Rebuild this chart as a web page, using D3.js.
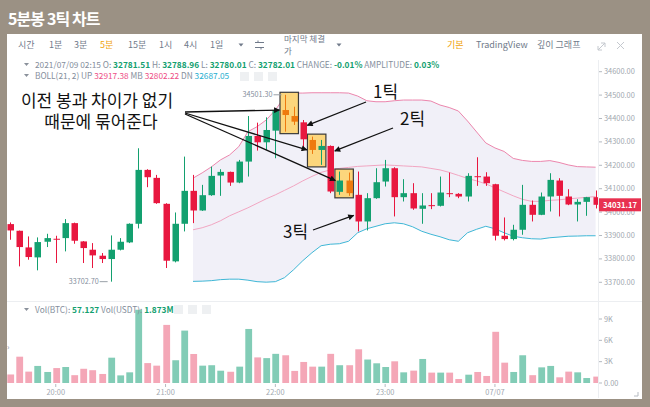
<!DOCTYPE html>
<html><head><meta charset="utf-8">
<script src="https://cdn.jsdelivr.net/npm/d3@7"></script>
<style>
html,body{margin:0;padding:0;background:#9b9184;}
svg{display:block;}
text{font-family:"Noto Sans CJK KR","Noto Sans",sans-serif;}
</style></head><body>
<svg id="c" width="650" height="407"></svg>
<script>
const times = ["19:35","19:40","19:45","19:50","19:55","20:00","20:05","20:10","20:15","20:20","20:25","20:30","20:35","20:40","20:45","20:50","20:55",
"21:00","21:05","21:10","21:15","21:20","21:25","21:30","21:35","21:40","21:45","21:50","21:55",
"22:00","22:05","22:10","22:15","22:20","22:25","22:30","22:35","22:40","22:45","22:50","22:55",
"23:00","23:05","23:10","23:15","23:20","23:25","23:30","23:35","23:40","23:45","23:50","23:55",
"00:00","00:05","00:10","00:15","00:20","00:25","00:30","00:35","00:40","00:45","00:50","00:55"];
const opens = [33948.7,33920.2,33849.1,33806.5,33873.3,33886.1,33888.9,33952.9,33874.7,33839.2,33813.6,33799.4,33839.2,33870.5,33950.1,34180.4,34146.3,34035.4,33789.5,33950.1,34090.8,34006.9,34072.3,34156.2,34171.8,34126.3,34215.9,34325.4,34298.3,34348.1,34436.2,34410.6,34383.6,34308.3,34265.6,34282.7,34086.6,34134.9,34073.8,33960.0,34059.5,34130.6,34187.5,34063.8,34080.9,34014.1,34029.7,34026.9,34080.9,34078.0,34066.6,34153.4,34151.9,34119.2,33898.9,33884.7,33924.5,34031.1,33988.4,34066.6,34134.9,34066.6,34032.5,34043.8,34063.8];
const highs = [33955.8,33921.0,33896.0,33891.8,33907.4,33898.9,33970.0,33955.0,33876.0,33867.6,33825.0,33900.3,33888.9,33952.0,34272.8,34183.2,34159.0,34038.0,33998.4,34237.2,34159.0,34116.4,34194.6,34183.2,34173.0,34223.0,34410.6,34382.2,34404.9,34443.3,34501.3,34450.4,34393.6,34322.5,34308.3,34285.0,34173.3,34169.0,34173.3,34080.9,34187.5,34223.0,34191.7,34140.6,34123.5,34080.9,34080.9,34151.9,34169.0,34081.0,34166.1,34234.4,34170.4,34121.0,33977.1,33945.8,34116.4,34049.6,34083.7,34166.1,34144.8,34097.9,34055.2,34065.0,34092.3];
const lows = [33881.9,33768.1,33796.6,33751.1,33850.6,33782.4,33832.1,33864.8,33782.4,33761.0,33782.4,33702.7,33836.3,33867.6,33930.2,34106.5,34035.4,33761.0,33785.2,33917.4,33952.9,34005.0,34069.5,34069.5,34112.1,34123.5,34151.9,34262.8,34265.6,34230.1,34343.8,34372.3,34272.8,34248.6,34201.7,34080.9,34073.8,34069.5,33917.4,33921.6,34056.7,34109.3,33981.4,34045.3,34009.8,33950.1,34012.6,34024.0,34063.8,34059.5,34045.3,34112.1,34112.1,33879.0,33879.0,33879.0,33903.2,33960.0,33987.0,34002.6,33981.4,34029.7,33960.0,33984.2,34015.5];
const closes = [33921.6,33850.6,33807.9,33871.9,33888.9,33883.3,33952.9,33877.6,33846.3,33815.0,33799.4,33839.2,33873.3,33950.1,34180.4,34149.1,34038.2,33792.3,33950.1,34090.8,34006.9,34072.3,34154.8,34171.8,34126.3,34215.9,34325.4,34298.3,34350.9,34436.2,34414.9,34386.5,34311.1,34265.6,34282.7,34088.0,34134.9,34080.9,33960.0,34059.5,34127.8,34187.5,34063.8,34080.9,34015.5,34028.3,34026.9,34083.7,34078.0,34066.6,34154.8,34150.5,34123.5,33898.9,33884.7,33924.5,34031.1,33988.4,34066.6,34137.7,34069.5,34032.5,34043.8,34063.8,34031.17];
const volumes = [1200,3700,1600,2400,1550,2100,2250,1100,2000,1800,1270,3560,1070,1500,10300,2800,2440,8170,3200,7370,4080,2440,2500,1730,1580,2300,7600,3600,3500,4100,3900,1700,2960,2300,2300,4100,2500,2500,4740,3300,2770,2250,3050,1500,1740,3380,1460,1460,1460,560,1170,1550,990,7200,2860,1550,3900,1100,2200,2400,800,1600,1500,700,900];
const bollStart = 20;
const bollUp = [34145.0,34167.6,34193.1,34223.0,34244.3,34279.7,34343.7,34365.0,34393.6,34436.2,34491.7,34508.7,34508.7,34510.0,34510.0,34510.0,34510.0,34508.7,34495.9,34475.9,34471.6,34471.6,34475.9,34478.9,34478.9,34478.9,34474.6,34457.5,34446.9,34432.0,34389.3,34342.4,34295.5,34274.2,34259.2,34229.4,34220.9,34216.6,34216.6,34220.0,34212.3,34201.7,34194.4,34193.1,34191.9];
const bollMid = [33924.5,33933.0,33945.8,33962.9,33984.2,34001.2,34018.3,34037.5,34056.7,34073.7,34092.9,34112.1,34133.4,34152.6,34169.7,34180.3,34186.7,34191.0,34195.3,34197.4,34199.5,34201.7,34199.5,34197.4,34195.3,34193.1,34186.7,34180.3,34169.7,34156.9,34144.1,34133.4,34120.7,34103.6,34086.5,34069.5,34054.6,34046.0,34046.0,34050.3,34052.4,34056.7,34059.7,34063.1,34066.5];
const bollDn = [33704.0,33704.9,33707.0,33711.3,33713.4,33713.4,33709.1,33702.7,33700.6,33702.7,33719.8,33753.9,33792.3,33826.4,33856.3,33862.7,33864.8,33875.4,33911.7,33928.8,33939.4,33950.1,33954.3,33950.1,33937.3,33918.1,33905.3,33894.6,33881.8,33875.4,33911.7,33926.6,33939.4,33928.8,33911.7,33896.8,33890.4,33886.1,33884.8,33890.4,33893.4,33896.8,33897.6,33898.9,33898.9];
const highlighted = [30,31,33,37];
const boxes = [[30,31],[33,34],[36,37]];
const priceTicks = [33700,33800,33900,34000,34100,34200,34300,34400,34500,34600];
const volTicks = [0,3000,6000,9000];
const volTickLabels = ["0.00","3K","6K","9K"];
const timeTicks = ["20:00","21:00","22:00","23:00","00:00"];
const timeTickLabels = ["20:00","21:00","22:00","23:00","07/07"];

const GREEN="#13a06f", RED="#e8173f", ORANGE="#ee7a0e";
const VGREEN="#82ccb6", VRED="#f4a7b7";
const svg = d3.select("#c");

// panel
svg.append("rect").attr("x",7).attr("y",34).attr("width",635).attr("height",365).attr("fill","#ffffff");
svg.append("text").attr("x",8).attr("y",25).attr("fill","#fff").attr("font-size",16).attr("font-weight",700)
  .attr("letter-spacing","-0.9").text("5분봉 3틱 차트");

// toolbar
const tb = [["시간",18,"#707a8a"],["1분",49,"#707a8a"],["3분",74,"#707a8a"],["5분",100,"#f0a30a"],["15분",128,"#707a8a"],["1시",159,"#707a8a"],["4시",184,"#707a8a"],["1일",210,"#707a8a"],["기본",447,"#f0a30a"],["TradingView",476,"#707a8a"],["깊이 그래프",537,"#707a8a"]];
tb.forEach(t=>svg.append("text").attr("x",t[1]).attr("y",48).attr("font-size",9).attr("fill",t[2]).text(t[0]));
svg.append("text").attr("x",284).attr("y",42).attr("font-size",8.5).attr("fill","#707a8a").text("마지막 체결");
svg.append("text").attr("x",284).attr("y",53.5).attr("font-size",8.5).attr("fill","#707a8a").text("가");
[[241,45],[339,45]].forEach(p=>svg.append("path").attr("d",`M${p[0]-2.5},${p[1]-1.5}L${p[0]+2.5},${p[1]-1.5}L${p[0]},${p[1]+1.5}Z`).attr("fill","#707a8a"));
svg.append("path").attr("d","M255,42.5h9M258,42.5v-2M255,47.5h9M261,47.5v2").attr("stroke","#707a8a").attr("fill","none");
svg.append("path").attr("d","M598,50l7,-7M601,43h4v4M598,46v4h4").attr("stroke","#c4c8ce").attr("fill","none");
svg.append("path").attr("d","M617,42l7,7M624,42l-7,7").attr("stroke","#c4c8ce").attr("fill","none");

// info lines
function infoLine(y, parts){
  const t = svg.append("text").attr("x",35).attr("y",y).attr("font-size",8.3).attr("font-family","'Noto Sans',sans-serif");
  parts.forEach(p=>t.append("tspan").attr("fill",p[1]).attr("font-weight",p[2]||400).text(p[0]));
  svg.append("path").attr("d",`M${24},${y-5}L${29},${y-5}L${26.5},${y-2}Z`).attr("fill","#8a919b");
}
const G="#848e9c";
infoLine(68,[["2021/07/09 02:15 O: ",G],["32781.51",GREEN,600],[" H: ",G],["32788.96",GREEN,600],[" L: ",G],["32780.01",GREEN,600],[" C: ",G],["32782.01",GREEN,600],[" CHANGE: ",G],["-0.01%",GREEN,600],[" AMPLITUDE: ",G],["0.03%",GREEN,600]]);
infoLine(79,[["BOLL(21, 2) UP ",G],["32917.38","#ee4f87"],[" MB ",G],["32802.22","#ee4f87"],[" DN ",G],["32687.05","#1eaed0"]]);
[240,254,268].forEach(x=>svg.append("rect").attr("x",x).attr("y",72).attr("width",9).attr("height",9).attr("fill","#eef0f2"));

// scales
const x = d3.scalePoint().domain(times).range([10,595.6]);
const y = d3.scaleLinear().domain([33700,34600]).range([282.3,71.7]);
const vy = d3.scaleLinear().domain([0,9000]).range([383,319]);
const xi = i => x(times[i]);

// separators
svg.append("line").attr("x1",598.5).attr("x2",598.5).attr("y1",60).attr("y2",398).attr("stroke","#eceef1");
svg.append("line").attr("x1",7).attr("x2",642).attr("y1",301.5).attr("y2",301.5).attr("stroke","#eceef1");

const defs = svg.append("defs");
defs.append("clipPath").attr("id","mc").append("rect").attr("x",7).attr("y",60).attr("width",591).attr("height",241);
defs.append("clipPath").attr("id","vc").append("rect").attr("x",7).attr("y",302).attr("width",591).attr("height",84);
defs.append("marker").attr("id","ah").attr("viewBox","0 0 10 10").attr("refX",9).attr("refY",5)
  .attr("markerWidth",7).attr("markerHeight",6).attr("orient","auto").attr("markerUnits","userSpaceOnUse")
  .append("path").attr("d","M0,0L10,5L0,10Z").attr("fill","#111");

const main = svg.append("g").attr("clip-path","url(#mc)");
// bollinger
const bIdx = d3.range(bollUp.length);
main.append("path").datum(bIdx).attr("fill","#f1f0f8")
  .attr("d", d3.area().x(k=>xi(k+bollStart)).y0(k=>y(bollDn[k])).y1(k=>y(bollUp[k]))(bIdx));
const bl = arr => d3.line().x(k=>xi(k+bollStart)).y(k=>y(arr[k]))(bIdx);
main.append("path").attr("d",bl(bollUp)).attr("fill","none").attr("stroke","#ec86ad").attr("stroke-width",1);
main.append("path").attr("d",bl(bollMid)).attr("fill","none").attr("stroke","#f2a6c2").attr("stroke-width",1);
main.append("path").attr("d",bl(bollDn)).attr("fill","none").attr("stroke","#3fb7d6").attr("stroke-width",1);

// highlight boxes
boxes.forEach(b=>{
  const hi = d3.max(b,i=>highs[i]), lo = d3.min(b,i=>lows[i]);
  const x0 = xi(b[0])-4.5, x1 = xi(b[1])+4.8;
  main.append("rect").attr("x",x0).attr("y",y(hi)-2.5).attr("width",x1-x0).attr("height",y(lo)-y(hi)+4.5)
    .attr("fill","#fcd67c").attr("stroke","#3a3a3a").attr("stroke-width",1.2);
});

// candles
const cg = main.append("g");
times.forEach((t,i)=>{
  const o=opens[i], c=closes[i];
  const col = highlighted.includes(i) ? ORANGE : (c>=o?GREEN:RED);
  const cx = Math.round(xi(i));
  cg.append("line").attr("x1",cx+0.5).attr("x2",cx+0.5).attr("y1",y(highs[i])).attr("y2",y(lows[i])).attr("stroke",col).attr("stroke-width",1);
  const top = y(Math.max(o,c)), h = Math.max(1,Math.abs(y(o)-y(c)));
  cg.append("rect").attr("x",cx-2.5).attr("y",top).attr("width",6.5).attr("height",h).attr("fill",col);
});

// price axis
const last = closes[closes.length-1];
priceTicks.forEach(p=>{
  svg.append("line").attr("x1",599).attr("x2",602).attr("y1",y(p)).attr("y2",y(p)).attr("stroke","#b5bac1");
  if (Math.abs(y(p)-y(last))<6) return; // hidden behind the last-price tag
  svg.append("text").attr("x",604).attr("y",y(p)).attr("dy","0.35em").attr("font-size",7.4).attr("fill","#a2a8b0")
   .attr("font-family","'Noto Sans',sans-serif").text(d3.format(".2f")(p));
});
// partially hidden 34000 label under the tag
const hidden = priceTicks.filter(p=>Math.abs(y(p)-y(last))<6);
defs.append("clipPath").attr("id","hc").append("rect").attr("x",600).attr("y",y(last)+6.5).attr("width",42).attr("height",6);
hidden.forEach(p=>svg.append("text").attr("clip-path","url(#hc)").attr("x",604).attr("y",y(p)).attr("dy","0.35em").attr("font-size",7.4).attr("fill","#a2a8b0")
   .attr("font-family","'Noto Sans',sans-serif").text(d3.format(".2f")(p)));
// last price tag
svg.append("rect").attr("x",599).attr("y",y(last)-6.5).attr("width",42).attr("height",13).attr("fill","#e8304f");
svg.append("text").attr("x",620).attr("y",y(last)).attr("dy","0.36em").attr("text-anchor","middle").attr("font-size",7.6)
  .attr("font-weight",600).attr("fill","#fff").attr("font-family","'Noto Sans',sans-serif").text(d3.format(".2f")(last));

// min / max labels
const iMax = d3.maxIndex(highs), iMin = d3.minIndex(lows);
[[iMax,highs[iMax]],[iMin,lows[iMin]]].forEach(([i,v])=>{
  const cx = xi(i);
  svg.append("line").attr("x1",cx-11).attr("x2",cx-3).attr("y1",y(v)).attr("y2",y(v)).attr("stroke","#9aa0a8");
  svg.append("text").attr("x",cx-12).attr("y",y(v)).attr("dy","0.35em").attr("text-anchor","end").attr("font-size",7.2)
    .attr("fill","#848e9c").attr("font-family","'Noto Sans',sans-serif").text(d3.format(".2f")(v));
});

// volume
const vg = svg.append("g").attr("clip-path","url(#vc)");
volumes.forEach((v,i)=>{
  const cx = Math.round(xi(i));
  vg.append("rect").attr("x",cx-2.7).attr("y",vy(v)).attr("width",6.8).attr("height",vy(0)-vy(v))
    .attr("fill", closes[i]>=opens[i]?VGREEN:VRED);
});
volTicks.forEach((v,k)=>{
  svg.append("line").attr("x1",599).attr("x2",602).attr("y1",vy(v)).attr("y2",vy(v)).attr("stroke","#b5bac1");
  svg.append("text").attr("x",604).attr("y",vy(v)).attr("dy","0.35em").attr("font-size",7.4).attr("fill","#a2a8b0")
   .attr("font-family","'Noto Sans',sans-serif").text(volTickLabels[k]);
});
const vt = svg.append("text").attr("x",35).attr("y",313).attr("font-size",8.3).attr("font-family","'Noto Sans',sans-serif");
[["Vol(BTC): ",G,400],["57.127",GREEN,600],["  Vol(USDT): ",G,400],["1.873M",GREEN,600]].forEach(p=>vt.append("tspan").attr("fill",p[1]).attr("font-weight",p[2]).text(p[0]));
svg.append("path").attr("d","M24,308L29,308L26.5,311Z").attr("fill","#8a919b");
[174,188,202].forEach(x=>svg.append("rect").attr("x",x).attr("y",305).attr("width",9).attr("height",9).attr("fill","#eef0f2"));
svg.append("text").attr("x",7).attr("y",350).attr("font-size",8).attr("fill","#8a919b").text("›");

// time axis
timeTicks.forEach((t,k)=>{
  svg.append("line").attr("x1",xi(times.indexOf(t))).attr("x2",xi(times.indexOf(t))).attr("y1",384).attr("y2",387).attr("stroke","#b5bac1");
  svg.append("text").attr("x",xi(times.indexOf(t))).attr("y",395).attr("text-anchor","middle").attr("font-size",7.4)
    .attr("fill","#a2a8b0").attr("font-family","'Noto Sans',sans-serif").text(timeTickLabels[k]);
});
svg.append("path").attr("d","M634,396h4v-4").attr("stroke","#b5bac1").attr("fill","none");

// annotations
const ann = svg.append("g");
ann.append("text").attr("x",97).attr("y",107).attr("text-anchor","middle").attr("font-size",17).attr("fill","#111").text("이전 봉과 차이가 없기");
ann.append("text").attr("x",101).attr("y",128).attr("text-anchor","middle").attr("font-size",17).attr("fill","#111").text("때문에 묶어준다");
const arrow = (x1,y1,x2,y2)=>ann.append("line").attr("x1",x1).attr("y1",y1).attr("x2",x2).attr("y2",y2)
  .attr("stroke","#111").attr("stroke-width",1.3).attr("marker-end","url(#ah)");
arrow(185,112, xi(30)-5, y(opens[30]));
arrow(185,113, xi(33)-5, y(closes[33]));
arrow(185,114, xi(36)-4, y(closes[36]));
ann.append("text").attr("x",373).attr("y",98).attr("font-size",17).attr("fill","#111").text("1틱");
ann.append("text").attr("x",400).attr("y",125).attr("font-size",17).attr("fill","#111").text("2틱");
ann.append("text").attr("x",283).attr("y",238).attr("font-size",17).attr("fill","#111").text("3틱");
arrow(366,102, xi(32)+4.5, y(opens[32])+3);
arrow(393,128, xi(35)+4.5, y(opens[35])+5);
arrow(313,230, xi(38)-4, y(closes[38])-6);
</script>
</body></html>
